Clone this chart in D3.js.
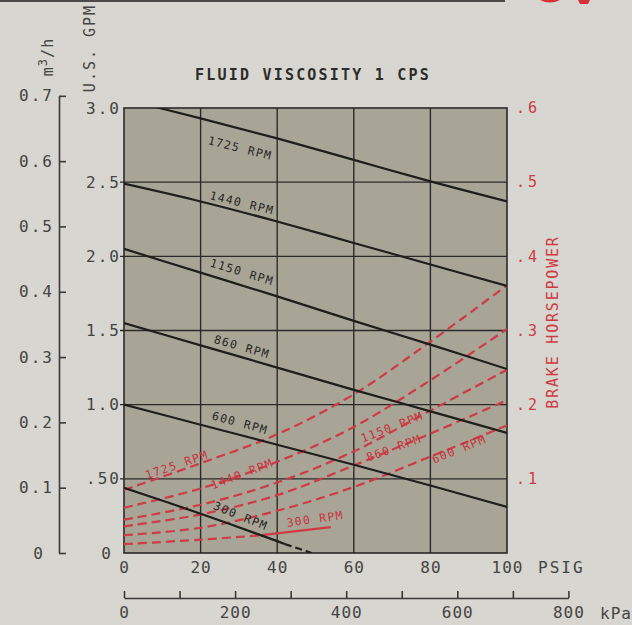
<!DOCTYPE html>
<html>
<head>
<meta charset="utf-8">
<script src="https://cdn.jsdelivr.net/npm/d3@7"></script>
<style>
  html, body { margin: 0; padding: 0; background: #d7d6d0; }
  svg { display: block; }
  text { font-family: "DejaVu Sans Mono", monospace; }
</style>
</head>
<body>
<svg id="chart" width="632" height="625"></svg>
<script>
// ---------- DATA ----------
const psig = [0, 20, 40, 60, 80, 100];
const rpms = ["1725", "1440", "1150", "860", "600"];

// Capacity (U.S. GPM) vs discharge pressure
const flow1725 = [3.06, 2.93, 2.795, 2.65, 2.505, 2.37];
const flow1440 = [2.49, 2.37, 2.235, 2.09, 1.945, 1.80];
const flow1150 = [2.05, 1.89, 1.73, 1.565, 1.405, 1.24];
const flow860  = [1.55, 1.40, 1.25, 1.10, 0.955, 0.81];
const flow600  = [1.00, 0.865, 0.73, 0.595, 0.455, 0.31];
const flow300Psig = [0, 20, 40, 42];
const flow300     = [0.44, 0.265, 0.08, 0.06];
const flow300ExtPsig = [42, 49];
const flow300Ext     = [0.06, 0.0];

// Brake horsepower vs discharge pressure
const hp1725 = [0.085, 0.121, 0.160, 0.214, 0.285, 0.361];
const hp1440 = [0.061, 0.087, 0.123, 0.170, 0.233, 0.302];
const hp1150 = [0.045, 0.065, 0.095, 0.137, 0.192, 0.247];
const hp860  = [0.036, 0.052, 0.078, 0.118, 0.161, 0.206];
const hp600  = [0.024, 0.034, 0.057, 0.089, 0.130, 0.172];
const hp300Psig = [0, 20, 36];
const hp300     = [0.012, 0.018, 0.024];
const hp300SolidPsig = [36, 54];
const hp300Solid     = [0.024, 0.035];

// Tick values
const gpmTicks = [0, 0.5, 1.0, 1.5, 2.0, 2.5, 3.0];
const hpTicks = [0.1, 0.2, 0.3, 0.4, 0.5, 0.6];
const m3hTicks = [0, 0.1, 0.2, 0.3, 0.4, 0.5, 0.6, 0.7];
const psigTicks = [0, 20, 40, 60, 80, 100];
const kpaTicks = [0, 100, 200, 300, 400, 500, 600, 700, 800];
const kpaLabels = [0, 200, 400, 600, 800];

// Curve label anchors (psig, value)
const flowLabels = [
  {t: "1725 RPM", p: 30.3, v: 2.73, a: 14},
  {t: "1440 RPM", p: 30.8, v: 2.36, a: 14},
  {t: "1150 RPM", p: 30.8, v: 1.895, a: 17},
  {t: "860 RPM",  p: 30.8, v: 1.39, a: 16},
  {t: "600 RPM",  p: 30.3, v: 0.877, a: 15},
  {t: "300 RPM",  p: 30.5, v: 0.25, a: 22}
];
const hpLabels = [
  {t: "1725 RPM", p: 13.8, v: 0.119, a: -19},
  {t: "1440 RPM", p: 30.8, v: 0.1065, a: -21},
  {t: "300 RPM",  p: 49.9, v: 0.046, a: -8},
  {t: "1150 RPM", p: 70.0, v: 0.170, a: -21},
  {t: "860 RPM",  p: 70.5, v: 0.1416, a: -20},
  {t: "600 RPM",  p: 87.5, v: 0.140, a: -22}
];

const GPM_TO_M3H = 0.22712;
const PSI_TO_KPA = 6.89476;

// ---------- LAYOUT ----------
const L = 124, R = 507, T = 108, B = 553;
const svg = d3.select("#chart");

const x = d3.scaleLinear([0, 100], [L, R]);
const y = d3.scaleLinear([0, 3], [B, T]);
const yHP = d3.scaleLinear([0, 0.6], [B, T]);
const yM = d3.scaleLinear([0, 0.7], [B, y(0.7 / GPM_TO_M3H)]);
const xK = d3.scaleLinear([0, 800], [L, x(800 / PSI_TO_KPA)]);

const dark = "#2a2a28";
const red = "#cf3a44";

// top strip remnants (edge of the page header above)
svg.append("rect").attr("x", 0).attr("y", 0).attr("width", 505).attr("height", 2).attr("fill", "#4a4a48");
svg.append("path").attr("d", "M540,0 Q550,5 560,0 Z M578,0 L590,0 L588,4 L580,4 Z")
  .attr("fill", "#d9303a");

// plot background
svg.append("rect").attr("x", L).attr("y", T).attr("width", R - L).attr("height", B - T)
  .attr("fill", "#a8a597");

// grid
const grid = svg.append("g").attr("stroke", dark).attr("stroke-width", 1.4);
grid.selectAll("line.v").data(psigTicks.slice(1, -1)).join("line")
  .attr("x1", d => x(d)).attr("x2", d => x(d)).attr("y1", T).attr("y2", B);
grid.selectAll("line.h").data(gpmTicks.slice(1, -1)).join("line")
  .attr("x1", L - 4).attr("x2", R).attr("y1", d => y(d)).attr("y2", d => y(d));
svg.append("rect").attr("x", L).attr("y", T).attr("width", R - L).attr("height", B - T)
  .attr("fill", "none").attr("stroke", dark).attr("stroke-width", 1.6);

// clip
svg.append("clipPath").attr("id", "clip").append("rect")
  .attr("x", L).attr("y", T).attr("width", R - L).attr("height", B - T);
const plot = svg.append("g").attr("clip-path", "url(#clip)");

const zip = (a, b) => a.map((d, i) => [d, b[i]]);
const lineF = d3.line().x(d => x(d[0])).y(d => y(d[1])).curve(d3.curveCatmullRom);
const lineH = d3.line().x(d => x(d[0])).y(d => yHP(d[1])).curve(d3.curveCatmullRom);

// red HP curves (dashed)
const hpSeries = [hp1725, hp1440, hp1150, hp860, hp600];
hpSeries.forEach(s => {
  plot.append("path").attr("d", lineH(zip(psig, s))).attr("fill", "none")
    .attr("stroke", red).attr("stroke-width", 2.2).attr("stroke-dasharray", "9,5");
});
plot.append("path").attr("d", lineH(zip(hp300Psig, hp300))).attr("fill", "none")
  .attr("stroke", red).attr("stroke-width", 2.2).attr("stroke-dasharray", "9,5");
plot.append("path").attr("d", lineH(zip(hp300SolidPsig, hp300Solid))).attr("fill", "none")
  .attr("stroke", red).attr("stroke-width", 2.2);

// black flow curves
const flowSeries = [flow1725, flow1440, flow1150, flow860, flow600];
flowSeries.forEach(s => {
  plot.append("path").attr("d", lineF(zip(psig, s))).attr("fill", "none")
    .attr("stroke", "#1e1e1c").attr("stroke-width", 2.2);
});
plot.append("path").attr("d", lineF(zip(flow300Psig, flow300))).attr("fill", "none")
  .attr("stroke", "#1e1e1c").attr("stroke-width", 2.2);
plot.append("path").attr("d", lineF(zip(flow300ExtPsig, flow300Ext))).attr("fill", "none")
  .attr("stroke", "#1e1e1c").attr("stroke-width", 2.2).attr("stroke-dasharray", "7,4");

// curve labels
const lbl = (arr, ys, col) => {
  svg.append("g").selectAll("text").data(arr).join("text")
    .attr("transform", d => `translate(${x(d.p)},${ys(d.v)}) rotate(${d.a})`)
    .attr("text-anchor", "middle").attr("dy", "0.35em")
    .attr("font-size", 11.5).attr("letter-spacing", 1.3)
    .attr("fill", col).text(d => d.t);
};
lbl(flowLabels, y, "#262624");
lbl(hpLabels, yHP, "#c8323d");

// ---------- AXES ----------
const tickText = "#444442";

// GPM (left of plot)
const gAx = svg.append("g").attr("transform", `translate(${L},0)`)
  .call(d3.axisLeft(y).tickValues(gpmTicks).tickSize(0).tickPadding(3)
    .tickFormat(d => d === 0 ? "0" : d === 0.5 ? ".50" : d.toFixed(1)));
gAx.select(".domain").remove();
gAx.selectAll("text").attr("font-size", 16).attr("letter-spacing", 2).attr("fill", tickText)
  .attr("font-family", "DejaVu Sans Mono").attr("dx", d => d === 0 ? -8 : 0);

// HP (right of plot)
const hAx = svg.append("g").attr("transform", `translate(${R},0)`)
  .call(d3.axisRight(yHP).tickValues(hpTicks).tickSize(0).tickPadding(9)
    .tickFormat(d => d3.format(".1f")(d).replace(/^0/, "")));
hAx.select(".domain").remove();
hAx.selectAll("text").attr("font-size", 15).attr("letter-spacing", 3).attr("fill", red)
  .attr("font-family", "DejaVu Sans Mono");

// m3/h axis
const mAx = svg.append("g").attr("transform", `translate(59,0)`)
  .call(d3.axisRight(yM).tickValues(m3hTicks).tickSize(7).tickSizeOuter(0).tickPadding(0)
    .tickFormat(d => d === 0 ? "0" : d.toFixed(1)));
mAx.select(".domain").attr("stroke", "#3a3a38").attr("stroke-width", 1.6);
mAx.selectAll(".tick line").attr("stroke", "#3a3a38").attr("stroke-width", 1.6);
mAx.selectAll("text").attr("x", d => d === 0 ? -14 : -5).attr("text-anchor", "end")
  .attr("font-size", 16).attr("letter-spacing", 2).attr("fill", tickText)
  .attr("font-family", "DejaVu Sans Mono");

// PSIG axis labels
const pAx = svg.append("g").attr("transform", `translate(0,${B})`)
  .call(d3.axisBottom(x).tickValues(psigTicks).tickSize(0).tickPadding(9));
pAx.select(".domain").remove();
pAx.selectAll("text").attr("font-size", 16).attr("letter-spacing", 1).attr("fill", tickText)
  .attr("font-family", "DejaVu Sans Mono");
svg.append("text").attr("x", 538).attr("y", B + 20).attr("font-size", 16).attr("letter-spacing", 2)
  .attr("fill", tickText).text("PSIG");

// kPa axis
const kAx = svg.append("g").attr("transform", `translate(0,598)`)
  .call(d3.axisBottom(xK).tickValues(kpaTicks).tickSizeInner(-7).tickSizeOuter(0).tickPadding(9)
    .tickFormat(d => kpaLabels.includes(d) ? String(d) : ""));
kAx.select(".domain").attr("stroke", "#3a3a38").attr("stroke-width", 1.6);
kAx.selectAll(".tick line").attr("stroke", "#3a3a38").attr("stroke-width", 1.6);
kAx.selectAll("text").attr("font-size", 16).attr("letter-spacing", 1).attr("fill", tickText)
  .attr("font-family", "DejaVu Sans Mono");
svg.append("text").attr("x", 600).attr("y", 619).attr("font-size", 16).attr("letter-spacing", 1)
  .attr("fill", tickText).text("kPa");

// axis titles
svg.append("text").attr("transform", "translate(95,48) rotate(-90)").attr("text-anchor", "middle")
  .attr("font-size", 15).attr("letter-spacing", 2).attr("fill", tickText).text("U.S. GPM");
const mt = svg.append("text").attr("transform", "translate(53,57) rotate(-90)").attr("text-anchor", "middle")
  .attr("font-size", 15).attr("letter-spacing", 1).attr("fill", tickText);
mt.append("tspan").text("m");
mt.append("tspan").attr("dy", -6).attr("font-size", 12).text("3");
mt.append("tspan").attr("dy", 6).text("/h");
svg.append("text").attr("transform", "translate(558,322) rotate(-90)").attr("text-anchor", "middle")
  .attr("font-size", 15).attr("letter-spacing", 1.8).attr("fill", red).text("BRAKE HORSEPOWER");

// title
svg.append("text").attr("x", 313).attr("y", 80).attr("text-anchor", "middle")
  .attr("font-size", 15).attr("font-weight", "bold").attr("letter-spacing", 2.2)
  .attr("fill", "#2c2c2a").text("FLUID VISCOSITY 1 CPS");
</script>
</body>
</html>
